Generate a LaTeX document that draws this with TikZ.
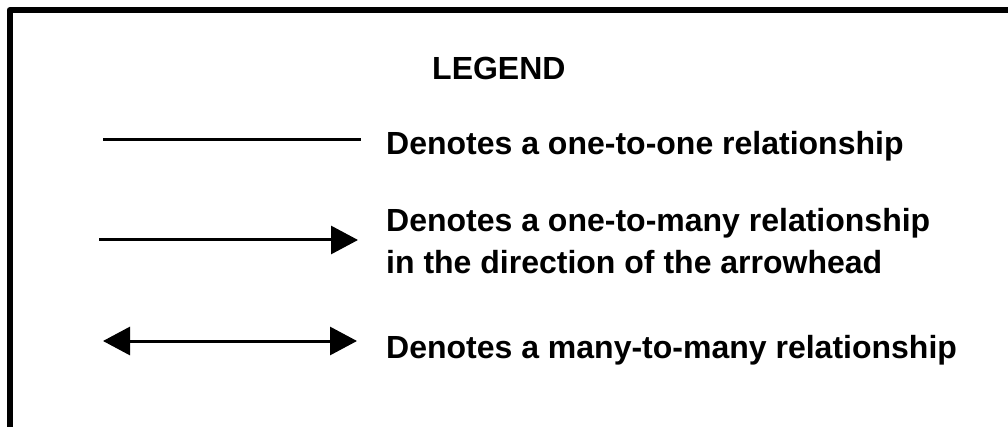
\documentclass[tikz,border=0pt]{standalone}
\usepackage{fontspec}
\setmainfont{Liberation Sans}
\usetikzlibrary{arrows.meta}
\begin{document}
\begin{tikzpicture}[x=1pt,y=-1pt,
  lbl/.style={anchor=base west,inner sep=0pt,font=\bfseries\fontsize{32}{41}\selectfont,align=left},
  rel/.style={line width=3pt},
  tri/.style={Triangle[length=27pt,width=28pt]}]
\useasboundingbox (0,0) rectangle (1008,427);
% frame (cropped box)
\coordinate (fb) at (9.5,440);
\coordinate (fc) at (9.5,10.3);
\coordinate (fr) at (1020,10.3);
\draw[line width=6pt,line join=round] (fb) -- (fc) -- (fr);
\node[lbl] (title) at (432,80) {LEGEND};
% one-to-one
\coordinate (a1) at (103,140);
\coordinate (b1) at (361,140);
\draw[rel] (a1) -- (b1);
\node[lbl] (t1) at (386,155) {Denotes a one-to-one relationship};
% one-to-many
\coordinate (a2) at (99,240);
\coordinate (b2) at (358,240);
\draw[rel,-{Triangle[length=27pt,width=28pt]}] (a2) -- (b2);
\node[lbl] (t2) at (386,273) {Denotes a one-to-many relationship\\in the direction of the arrowhead};
% many-to-many
\coordinate (a3) at (103,341);
\coordinate (b3) at (357,341);
\draw[rel,{Triangle[length=27pt,width=28pt]}-{Triangle[length=27pt,width=28pt]}] (a3) -- (b3);
\node[lbl] (t3) at (386,358) {Denotes a many-to-many relationship};
\end{tikzpicture}
\end{document}
